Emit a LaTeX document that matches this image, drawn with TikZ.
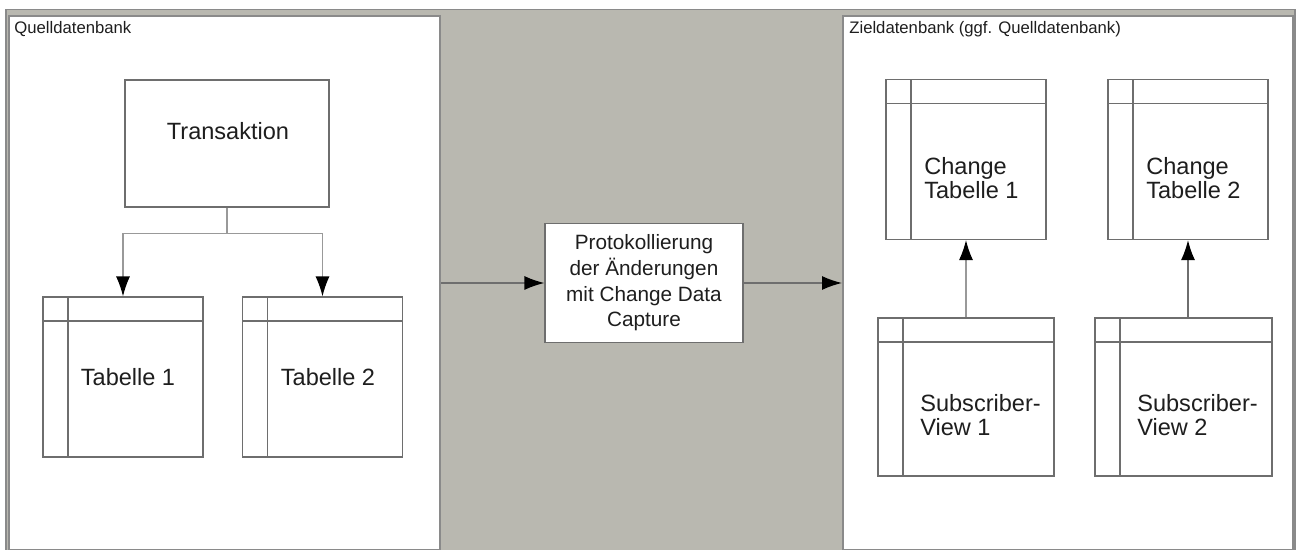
\documentclass[tikz,border=0pt]{standalone}
\usepackage{fontspec}
\setmainfont{Liberation Sans}
\usetikzlibrary{arrows.meta}

\definecolor{bandgray}{HTML}{B9B8B0}
\definecolor{framegray}{HTML}{8A8A8A}
\definecolor{linegray}{HTML}{6E6E6E}
\definecolor{textdark}{HTML}{1E1E1E}

\tikzset{
  panel/.style={draw=framegray, line width=1.2pt, fill=white, inner sep=0pt},
  procbox/.style={draw=linegray, line width=0.7pt, fill=white, inner sep=0pt},
  tablebox/.style={draw=linegray, line width=0.7pt, fill=white, inner sep=0pt,
    minimum width=3.2cm, minimum height=3.2cm,
    path picture={
      \draw[linegray, line width=0.7pt]
        ([yshift=-0.48cm]path picture bounding box.north west) --
        ([yshift=-0.48cm]path picture bounding box.north east);
      \draw[linegray, line width=0.7pt]
        ([xshift=0.5cm]path picture bounding box.north west) --
        ([xshift=0.5cm]path picture bounding box.south west);
    }},
  dblabel/.style={anchor=west, inner sep=0pt, text=textdark, font=\fontsize{9.5}{11}\selectfont},
  tabtext/.style={inner sep=0pt, text=textdark, font=\fontsize{13.4}{13.6}\selectfont},
  sidetext/.style={tabtext, anchor=west, align=left},
  treeline/.style={draw=linegray!70, line width=0.7pt},
  flow/.style={->, draw=linegray, line width=0.8pt},
}

\begin{document}
\begin{tikzpicture}[x=0.02cm, y=-0.02cm, >={Latex[length=4mm,width=2.8mm,black]}]
  \useasboundingbox (0,0) rectangle (1296,550);
  \fill[bandgray] (6,9) rectangle (1296,550);
  \draw[framegray, line width=1pt] (6,550) -- (6,9.5) -- (1295,9.5) -- (1295,550);

  % Datenbanken
  \node[panel, minimum width=8.62cm, minimum height=10.68cm] (src) at (224.5,283) {};
  \node[panel, minimum width=9cm, minimum height=10.68cm] (dst) at (1068,283) {};
  \node[dblabel] (src-lbl) at (14,29) {Quelldatenbank};
  \node[dblabel] (dst-lbl) at (849,29) {Zieldatenbank (ggf. Quelldatenbank)};

  % Quelle
  \node[procbox, minimum width=4.08cm, minimum height=2.54cm] (trans) at (227,143.5) {};
  \node[tabtext] (trans-lbl) at (228,131) {Transaktion};

  \node[tablebox] (tab1) at (123,377) {};
  \node[tabtext] (tab1-lbl) at (128,377) {Tabelle 1};
  \node[tablebox] (tab2) at (322.5,377) {};
  \node[tabtext] (tab2-lbl) at (328,377) {Tabelle 2};

  \draw[treeline] (trans.south) -- ++(0,26) coordinate (fork);
  \draw[treeline, ->] (fork) -| (tab1.north);
  \draw[treeline, ->] (fork) -| (tab2.north);

  % CDC
  \node[procbox, minimum width=3.96cm, minimum height=2.38cm, align=center,
        text=textdark, font=\fontsize{11.8}{14.6}\selectfont] (cdc) at (644,283)
        {Protokollierung\\der Änderungen\\mit Change Data\\Capture};

  \draw[flow] (src) -- (cdc);
  \draw[flow] (cdc) -- (dst);

  % Ziel
  \node[tablebox] (ct1) at (966,159.5) {};
  \node[sidetext] (ct1-lbl) at (924,178.5) {Change\\Tabelle 1};
  \node[tablebox] (ct2) at (1188,159.5) {};
  \node[sidetext] (ct2-lbl) at (1146,178.5) {Change\\Tabelle 2};

  \node[tablebox, minimum width=3.52cm, minimum height=3.16cm] (sv1) at (966,397) {};
  \node[sidetext] (sv1-lbl) at (920,415) {Subscriber-\\View 1};
  \node[tablebox, minimum width=3.54cm, minimum height=3.16cm] (sv2) at (1183.5,397) {};
  \node[sidetext] (sv2-lbl) at (1137,415) {Subscriber-\\View 2};

  \draw[treeline, ->] (sv1) -- (ct1);
  \draw[flow] (ct2.south |- sv2.north) -- (ct2.south);
\end{tikzpicture}
\end{document}
